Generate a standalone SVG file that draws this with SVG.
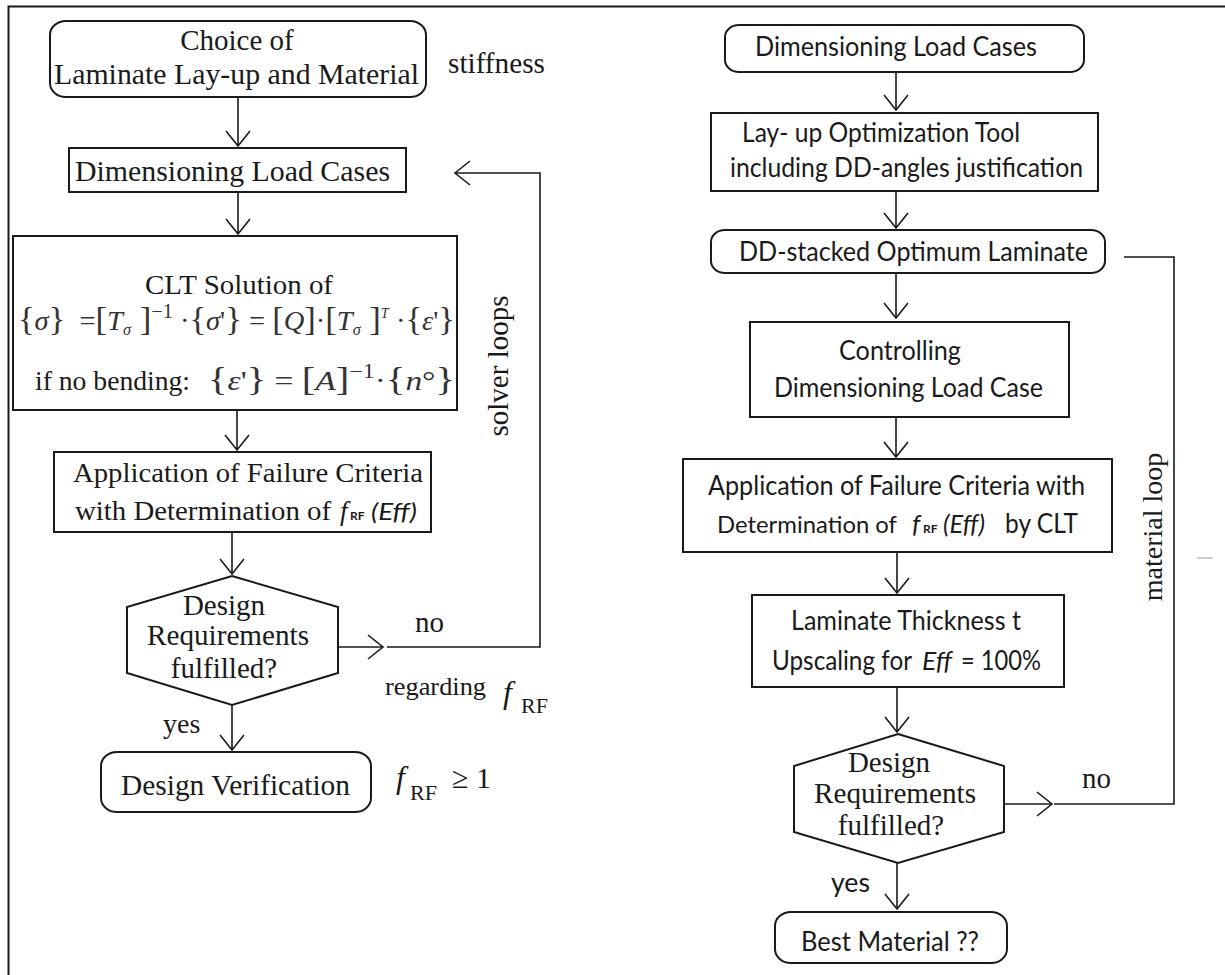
<svg xmlns="http://www.w3.org/2000/svg" width="1225" height="975" viewBox="0 0 1225 975">
<style>
.box{fill:#fff;stroke:#1a1a1a;stroke-width:2}
.conn{fill:none;stroke:#1a1a1a;stroke-width:1.6}
.serif{font-family:"Liberation Serif","Times New Roman",serif;fill:#1a1a1a}
.sans{font-family:Lato,"Open Sans","Liberation Sans",sans-serif;fill:#1a1a1a}
.it{font-style:italic}
.math{font-family:"Liberation Serif","Times New Roman",serif;fill:#333;font-size:28px}
</style>
<defs>
<marker id="ah" viewBox="-17 -13 19 26" refX="0" refY="0" markerWidth="19" markerHeight="26" markerUnits="userSpaceOnUse" orient="auto">
<path d="M-15,-12 L0,0 L-15,12" fill="none" stroke="#1a1a1a" stroke-width="1.6"/>
</marker>
</defs>
<rect width="1225" height="975" fill="#fff"/>
<path d="M8.5,975 V6.5 H1225" fill="none" stroke="#1a1a1a" stroke-width="2"/>
<line x1="1197" y1="558" x2="1213" y2="558" stroke="#cfcfcf" stroke-width="2"/>

<g id="connectors">
<path class="conn" d="M238,97 V146" marker-end="url(#ah)"/>
<path class="conn" d="M238,192 V234" marker-end="url(#ah)"/>
<path class="conn" d="M237,410 V450" marker-end="url(#ah)"/>
<path class="conn" d="M232,532 V574" marker-end="url(#ah)"/>
<path class="conn" d="M232,705 V750" marker-end="url(#ah)"/>
<path class="conn" d="M338,647 H383" marker-end="url(#ah)"/>
<path class="conn" d="M387,647 H540 V173 H455" marker-end="url(#ah)"/>
<path class="conn" d="M896,72 V110" marker-end="url(#ah)"/>
<path class="conn" d="M896,191 V228" marker-end="url(#ah)"/>
<path class="conn" d="M896,273 V318" marker-end="url(#ah)"/>
<path class="conn" d="M896,417 V457" marker-end="url(#ah)"/>
<path class="conn" d="M897,552 V593" marker-end="url(#ah)"/>
<path class="conn" d="M897,687 V732" marker-end="url(#ah)"/>
<path class="conn" d="M897,863 V909" marker-end="url(#ah)"/>
<path class="conn" d="M1004,804 H1052" marker-end="url(#ah)"/>
<path class="conn" d="M1054,804 H1174 V257 H1124"/>
</g>

<g id="lbl-left">
<text class="serif" x="448" y="73" font-size="29" textLength="97" lengthAdjust="spacingAndGlyphs">stiffness</text>
<text class="serif" x="508" y="366" font-size="29" text-anchor="middle" transform="rotate(-90 508 366)">solver loops</text>
<text class="serif" x="415" y="632" font-size="29">no</text>
<text class="serif" x="385" y="695" font-size="26" textLength="101" lengthAdjust="spacingAndGlyphs">regarding</text>
<text class="serif it" x="503" y="703" font-size="32">f</text>
<text class="serif" x="521" y="713" font-size="22">RF</text>
<text class="serif" x="163" y="733" font-size="28">yes</text>
<text class="serif it" x="396" y="788" font-size="32">f</text>
<text class="serif" x="410" y="800" font-size="22">RF</text>
<text class="serif" x="452" y="788" font-size="30">≥ 1</text>
</g>

<g id="lbl-right">
<text class="serif" x="1162" y="527" font-size="28" text-anchor="middle" transform="rotate(-90 1162 527)">material loop</text>
<text class="serif" x="1082" y="788" font-size="29">no</text>
<text class="sans" x="831" y="892" font-size="26" textLength="39" lengthAdjust="spacingAndGlyphs">yes</text>
</g>

<g id="n-choice">
<rect class="box" x="50" y="21" width="376" height="76" rx="16" ry="14"/>
<text class="serif" x="237" y="50" font-size="29" text-anchor="middle">Choice of</text>
<text class="serif" x="54" y="84" font-size="29" textLength="365" lengthAdjust="spacingAndGlyphs">Laminate Lay-up and Material</text>
</g>

<g id="n-dim-left">
<rect class="box" x="69" y="148" width="337" height="44"/>
<text class="serif" x="75" y="181" font-size="29" textLength="315" lengthAdjust="spacingAndGlyphs">Dimensioning Load Cases</text>
</g>

<g id="n-clt">
<rect class="box" x="13" y="236" width="444" height="174"/>
<text class="serif" x="145" y="294" font-size="28" textLength="188" lengthAdjust="spacingAndGlyphs">CLT Solution of</text>
<text class="math" x="18" y="330" textLength="437" lengthAdjust="spacingAndGlyphs"><tspan font-size="34">{</tspan><tspan class="it">σ</tspan><tspan font-size="34">}</tspan>&#160; =<tspan font-size="34">[</tspan><tspan class="it">T</tspan><tspan class="it" font-size="16" dy="5">σ</tspan><tspan dy="-5" font-size="34">&#160;]</tspan><tspan font-size="20" dy="-12">−1</tspan><tspan dy="12"> ·</tspan><tspan font-size="34">{</tspan><tspan class="it">σ</tspan>'<tspan font-size="34">}</tspan> = <tspan font-size="34">[</tspan><tspan class="it">Q</tspan><tspan font-size="34">]</tspan>·<tspan font-size="34">[</tspan><tspan class="it">T</tspan><tspan class="it" font-size="16" dy="5">σ</tspan><tspan dy="-5" font-size="34">&#160;]</tspan><tspan font-size="14" dy="-12" class="it">T</tspan><tspan dy="12">&#160;·</tspan><tspan font-size="34">{</tspan><tspan class="it">ε</tspan>'<tspan font-size="34">}</tspan></text>
<text class="serif" x="35" y="390" font-size="28" textLength="155" lengthAdjust="spacingAndGlyphs">if no bending:</text>
<text class="math" x="208" y="390" textLength="247" lengthAdjust="spacingAndGlyphs"><tspan font-size="34">{</tspan><tspan class="it">ε</tspan>'<tspan font-size="34">}</tspan> = <tspan font-size="34">[</tspan><tspan class="it">A</tspan><tspan font-size="34">]</tspan><tspan font-size="20" dy="-12">−1</tspan><tspan dy="12">·</tspan><tspan font-size="34">{</tspan><tspan class="it">n</tspan>°<tspan font-size="34">}</tspan></text>
</g>

<g id="n-app-left">
<rect class="box" x="54" y="452" width="377" height="80"/>
<text class="serif" x="73" y="482" font-size="28" textLength="350" lengthAdjust="spacingAndGlyphs">Application of Failure Criteria</text>
<text class="serif" x="75" y="520" font-size="28" textLength="256" lengthAdjust="spacingAndGlyphs">with Determination of</text>
<text class="serif it" x="340" y="520" font-size="27">f</text>
<text class="sans" x="350" y="520" font-size="12" font-weight="bold">RF</text>
<text class="sans it" x="371" y="520" font-size="24" textLength="46" lengthAdjust="spacingAndGlyphs">(Eff)</text>
</g>

<g id="n-dec-left">
<polygon class="box" points="232,576 338,607 338,673 232,705 127,673 127,607"/>
<text class="serif" x="224" y="615" font-size="29" text-anchor="middle">Design</text>
<text class="serif" x="228" y="645" font-size="29" text-anchor="middle" textLength="162" lengthAdjust="spacingAndGlyphs">Requirements</text>
<text class="serif" x="224" y="678" font-size="29" text-anchor="middle">fulfilled?</text>
</g>

<g id="n-verif">
<rect class="box" x="101" y="752" width="270" height="60" rx="16" ry="14"/>
<text class="serif" x="121" y="795" font-size="29" textLength="229" lengthAdjust="spacingAndGlyphs">Design Verification</text>
</g>

<g id="n-dim-right">
<rect class="box" x="725" y="25" width="359" height="47" rx="14" ry="12"/>
<text class="sans" x="755" y="56" font-size="26" textLength="282" lengthAdjust="spacingAndGlyphs">Dimensioning Load Cases</text>
</g>

<g id="n-layup">
<rect class="box" x="711" y="113" width="387" height="78"/>
<text class="sans" x="742" y="142" font-size="26" textLength="278" lengthAdjust="spacingAndGlyphs">Lay- up Optimization Tool</text>
<text class="sans" x="730" y="177" font-size="26" textLength="353" lengthAdjust="spacingAndGlyphs">including DD-angles justification</text>
</g>

<g id="n-dd">
<rect class="box" x="711" y="230" width="394" height="43" rx="14" ry="12"/>
<text class="sans" x="739" y="261" font-size="26" textLength="349" lengthAdjust="spacingAndGlyphs">DD-stacked Optimum Laminate</text>
</g>

<g id="n-ctrl">
<rect class="box" x="750" y="322" width="319" height="95"/>
<text class="sans" x="839" y="360" font-size="26" textLength="122" lengthAdjust="spacingAndGlyphs">Controlling</text>
<text class="sans" x="774" y="397" font-size="26" textLength="269" lengthAdjust="spacingAndGlyphs">Dimensioning Load Case</text>
</g>

<g id="n-app-right">
<rect class="box" x="683" y="459" width="429" height="93"/>
<text class="sans" x="708" y="495" font-size="26" textLength="377" lengthAdjust="spacingAndGlyphs">Application of Failure Criteria with</text>
<text class="sans" x="717" y="533" font-size="24" textLength="180" lengthAdjust="spacingAndGlyphs">Determination of</text>
<text class="sans it" x="912" y="533" font-size="26">f</text>
<text class="sans" x="923" y="533" font-size="12" font-weight="bold">RF</text>
<text class="sans it" x="943" y="533" font-size="26" textLength="42" lengthAdjust="spacingAndGlyphs">(Eff)</text>
<text class="sans" x="1005" y="533" font-size="26" textLength="73" lengthAdjust="spacingAndGlyphs">by CLT</text>
</g>

<g id="n-thick">
<rect class="box" x="752" y="595" width="312" height="92"/>
<text class="sans" x="791" y="630" font-size="26" textLength="230" lengthAdjust="spacingAndGlyphs">Laminate Thickness t</text>
<text class="sans" x="772" y="670" font-size="26" textLength="140" lengthAdjust="spacingAndGlyphs">Upscaling for</text>
<text class="sans it" x="922" y="670" font-size="26" textLength="30" lengthAdjust="spacingAndGlyphs">Eff</text>
<text class="sans" x="961" y="670" font-size="26" textLength="80" lengthAdjust="spacingAndGlyphs">= 100%</text>
</g>

<g id="n-dec-right">
<polygon class="box" points="898,734 1004,766 1004,832 898,863 794,832 794,766"/>
<text class="serif" x="889" y="772" font-size="29" text-anchor="middle">Design</text>
<text class="serif" x="895" y="803" font-size="29" text-anchor="middle" textLength="162" lengthAdjust="spacingAndGlyphs">Requirements</text>
<text class="serif" x="891" y="835" font-size="29" text-anchor="middle">fulfilled?</text>
</g>

<g id="n-best">
<rect class="box" x="775" y="912" width="232" height="51" rx="16" ry="14"/>
<text class="sans" x="801" y="951" font-size="26" textLength="178" lengthAdjust="spacingAndGlyphs">Best Material ??</text>
</g>
</svg>
